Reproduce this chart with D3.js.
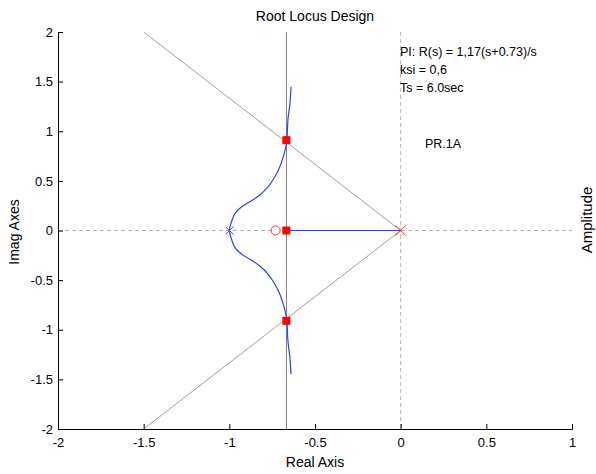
<!DOCTYPE html>
<html>
<head>
<meta charset="utf-8">
<script src="https://cdn.jsdelivr.net/npm/d3@7"></script>
<style>
  html, body { margin: 0; padding: 0; background: #fff; }
  svg { display: block; font-family: "Liberation Sans", Arial, sans-serif; }
</style>
</head>
<body>
<svg id="chart" width="596" height="474"></svg>
<script>
// Axis ticks
const xTicks = [-2, -1.5, -1, -0.5, 0, 0.5, 1];
const yTicks = [-2, -1.5, -1, -0.5, 0, 0.5, 1, 1.5, 2];

// Upper branch of the root locus leaving the pole at s = -1 (lower branch is its mirror)
const locusRe = [-1.0, -0.987, -0.967, -0.928, -0.880, -0.822, -0.773, -0.734, -0.705, -0.685, -0.670, -0.664, -0.658, -0.646, -0.640];
const locusIm = [0.0, 0.089, 0.173, 0.240, 0.290, 0.358, 0.442, 0.542, 0.643, 0.744, 0.845, 0.912, 1.114, 1.285, 1.447];

// Real-axis segment of the locus
const realSegment = [-0.667, 0];

// Open-loop poles and zero
const plantPole = [-1, 0];
const integratorPole = [0, 0];
const piZero = [-0.73, 0];

// Closed-loop poles for the chosen gain
const clPolesRe = [-0.667, -0.667, -0.667];
const clPolesIm = [0.91, 0, -0.91];

// Design constraints: damping ratio 0.6 and settling time 6 s
const ksi = 0.6;
const sigmaTs = -4 / 6.0;

const annotations = ["PI: R(s) = 1,17(s+0.73)/s", "ksi = 0,6", "Ts = 6.0sec"];

const svg = d3.select("#chart");
const m = { left: 58, right: 572, top: 32, bottom: 429 };

const x = d3.scaleLinear().domain([-2, 1]).range([m.left, m.right]);
const y = d3.scaleLinear().domain([-2, 2]).range([m.bottom, m.top]);

const plot = svg.append("g");

// Dashed reference axes through the origin
plot.append("line")
  .attr("x1", x(-2)).attr("x2", x(1)).attr("y1", y(0)).attr("y2", y(0))
  .attr("stroke", "#b4b4b4").attr("stroke-dasharray", "4,3");
plot.append("line")
  .attr("x1", x(0)).attr("x2", x(0)).attr("y1", y(2)).attr("y2", y(-2))
  .attr("stroke", "#b4b4b4").attr("stroke-dasharray", "4,3");

// Constant-damping rays
const slope = Math.sqrt(1 - ksi * ksi) / ksi; // imag/real ratio
[1, -1].forEach(sgn => {
  const re = -2 / slope;
  plot.append("line")
    .attr("x1", x(0)).attr("y1", y(0))
    .attr("x2", x(re)).attr("y2", y(sgn * 2))
    .attr("stroke", "#a0a0a0").attr("stroke-width", 1);
});

// Settling-time boundary
plot.append("line")
  .attr("x1", x(sigmaTs)).attr("x2", x(sigmaTs)).attr("y1", y(2)).attr("y2", y(-2))
  .attr("stroke", "#808080").attr("stroke-width", 1);

// Complex locus: lower branch up through the pole at -1 and on to the upper branch
const branch = locusRe.map((r, i) => [r, locusIm[i]]);
const fullLocus = branch.slice(1).reverse().map(d => [d[0], -d[1]]).concat(branch);
const lineC = d3.line().x(d => x(d[0])).y(d => y(d[1])).curve(d3.curveCatmullRom);
plot.append("path").attr("d", lineC(fullLocus))
  .attr("fill", "none").attr("stroke", "#2f3fff").attr("stroke-width", 1.2);
plot.append("line")
  .attr("x1", x(realSegment[0])).attr("x2", x(realSegment[1]))
  .attr("y1", y(0)).attr("y2", y(0))
  .attr("stroke", "#2f3fff").attr("stroke-width", 1.2);

// Pole and zero markers
function cross(p, size, color) {
  const cx = x(p[0]), cy = y(p[1]);
  plot.append("path")
    .attr("d", `M${cx - size},${cy - size}L${cx + size},${cy + size}M${cx - size},${cy + size}L${cx + size},${cy - size}`)
    .attr("stroke", color).attr("stroke-width", 1).attr("fill", "none");
}
cross(plantPole, 4, "#2f3fff");
cross(integratorPole, 5, "#ff3030");

plot.append("circle")
  .attr("cx", x(piZero[0])).attr("cy", y(piZero[1])).attr("r", 4.5)
  .attr("fill", "#fff").attr("stroke", "#ff3030").attr("stroke-width", 1);

clPolesRe.forEach((r, i) => {
  plot.append("rect")
    .attr("x", x(r) - 4).attr("y", y(clPolesIm[i]) - 4)
    .attr("width", 8).attr("height", 8)
    .attr("fill", "#ff0000");
});

// Axes with inward ticks
const fmt = d => String(d);
const xAxis = svg.append("g").attr("transform", `translate(0,${m.bottom})`)
  .call(d3.axisBottom(x).tickValues(xTicks).tickSize(-5).tickPadding(6).tickFormat(fmt));
const yAxis = svg.append("g").attr("transform", `translate(${m.left},0)`)
  .call(d3.axisLeft(y).tickValues(yTicks).tickSize(-5).tickPadding(5).tickFormat(fmt));
[xAxis, yAxis].forEach(a => {
  a.select(".domain").attr("stroke", "#000");
  a.selectAll(".tick line").attr("stroke", "#000");
  a.selectAll(".tick text").attr("fill", "#000").attr("font-size", 13)
    .attr("font-family", "Liberation Sans, Arial, sans-serif");
});
xAxis.selectAll(".tick text").attr("dy", "0.95em");

// Titles
svg.append("text").attr("x", 315).attr("y", 21).attr("text-anchor", "middle")
  .attr("font-size", 14).text("Root Locus Design");
svg.append("text").attr("x", 315).attr("y", 467).attr("text-anchor", "middle")
  .attr("font-size", 14).text("Real Axis");
svg.append("text").attr("transform", "translate(19,232) rotate(-90)")
  .attr("text-anchor", "middle").attr("font-size", 14).text("Imag Axes");
svg.append("text").attr("transform", "translate(592,220) rotate(-90)")
  .attr("text-anchor", "middle").attr("font-size", 15).text("Amplitude");

// Design annotations
annotations.forEach((t, i) => {
  svg.append("text").attr("x", 400).attr("y", 56 + i * 18)
    .attr("font-size", 12.5).text(t);
});
svg.append("text").attr("x", 425).attr("y", 148).attr("font-size", 12.5).text("PR.1A");
</script>
</body>
</html>
